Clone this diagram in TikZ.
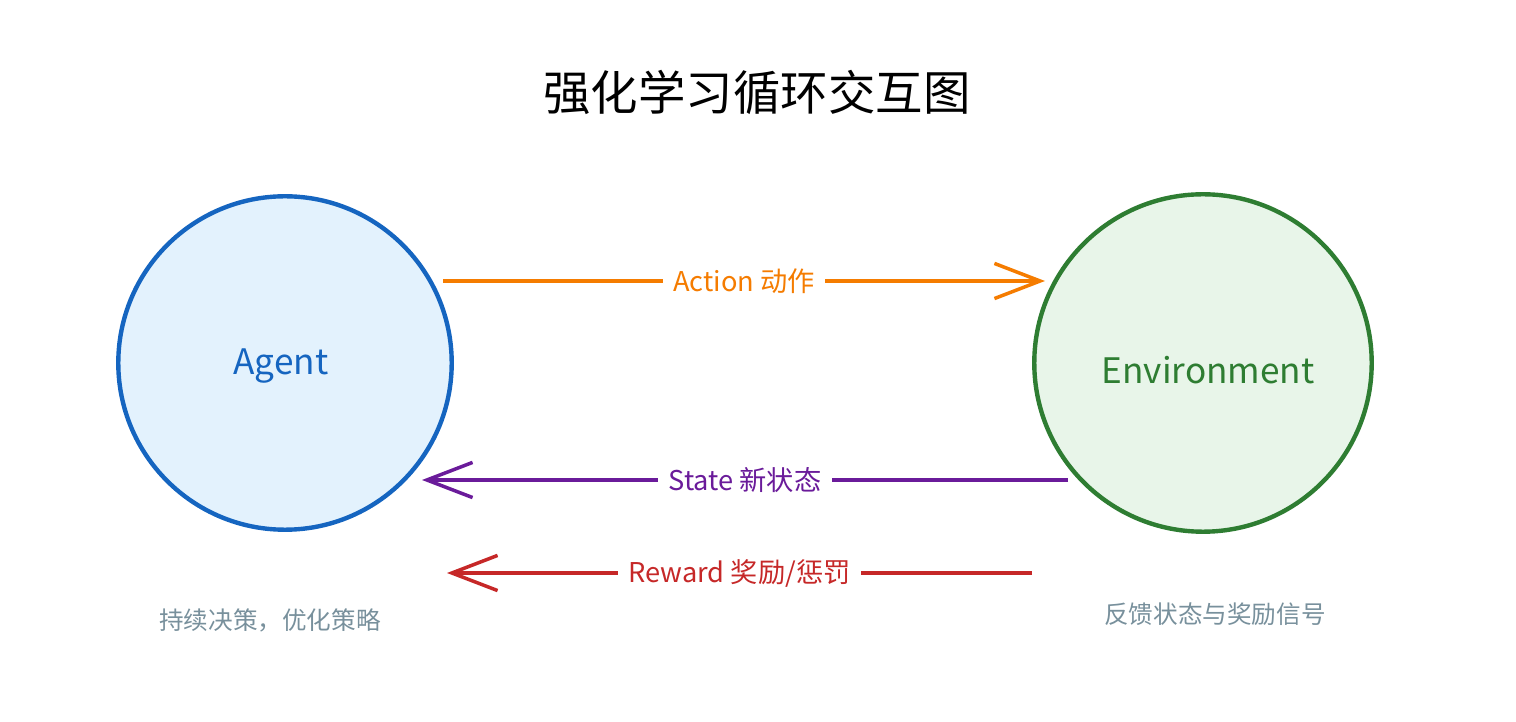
\documentclass[tikz,border=0pt]{standalone}
\usepackage{fontspec}
\setmainfont{Noto Sans CJK SC}
\usetikzlibrary{arrows.meta}
\definecolor{cblue}{HTML}{1565C0}\definecolor{fblue}{HTML}{E3F2FD}
\definecolor{cgreen}{HTML}{2E7D32}\definecolor{fgreen}{HTML}{E8F5E9}
\definecolor{corange}{HTML}{F57C00}\definecolor{cpurple}{HTML}{6A1B9A}
\definecolor{cred}{HTML}{C62828}\definecolor{cgrey}{HTML}{78909C}
\begin{document}
\begin{tikzpicture}[x=0.02cm,y=-0.02cm,
  circ/.style={circle,line width=2.5pt,inner sep=0pt},
  arr/.style={line width=2.5pt,-{Straight Barb[length=26pt,width=20pt,line width=2pt]}},
  lbl/.style={fill=white,font=\fontsize{15.5}{18}\selectfont,inner sep=6pt},
  captxt/.style={text=cgrey,font=\fontsize{14}{16}\selectfont}]
\useasboundingbox (0,0) rectangle (1516,722);
\node (title) at (757,92) {\fontsize{27}{32}\selectfont 强化学习循环交互图};
\node[circ,draw=cblue,fill=fblue,minimum size=6.67cm] (agent) at (285,363) {};
\node[text=cblue,font=\fontsize{20}{24}\selectfont\itshape] (agentl) at (281,366) {Agent};
\node[circ,draw=cgreen,fill=fgreen,minimum size=6.75cm] (env) at (1203,363) {};
\node[text=cgreen,font=\fontsize{20}{24}\selectfont] (envl) at (1208,370) {Environment};
\coordinate (a1) at (443,281); \coordinate (a2) at (1045,281);
\draw[arr,corange] (a1) -- node[lbl,text=corange]{Action 动作} (a2);
\coordinate (s1) at (1068,480); \coordinate (s2) at (422,480);
\draw[arr,cpurple] (s1) -- node[lbl,text=cpurple]{State 新状态} (s2);
\coordinate (r1) at (1032,573); \coordinate (r2) at (447,573);
\draw[arr,cred] (r1) -- node[lbl,text=cred]{Reward 奖励/惩罚} (r2);
\node[captxt] (c1) at (270,620) {持续决策，优化策略};
\node[captxt] (c2) at (1215,614) {反馈状态与奖励信号};
\end{tikzpicture}
\end{document}
